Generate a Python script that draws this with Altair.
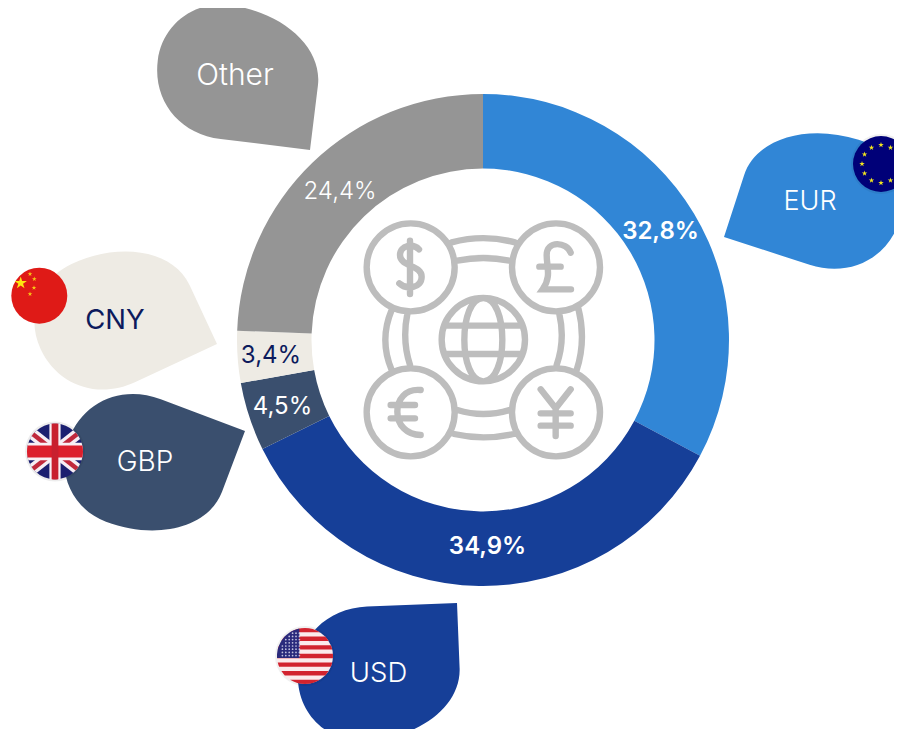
import math
import altair as alt
import pandas as pd

# ---- data
currencies = ["EUR", "USD", "GBP", "CNY", "Other"]
shares = [32.8, 34.9, 4.5, 3.4, 24.4]
share_labels = ["32,8%", "34,9%", "4,5%", "3,4%", "24,4%"]
colors = ["#3186d6", "#163f98", "#3a4f6e", "#eeebe4", "#959595"]
label_colors = ["#ffffff", "#ffffff", "#ffffff", "#0c1a5c", "#ffffff"]
label_weights = [600, 600, 400, 400, 300]
label_x = [660.5, 487.5, 282.5, 271, 340]
label_y = [232, 547, 406.5, 355.5, 191.5]

bubble_tip_x = [724, 457, 245, 217, 310]
bubble_tip_y = [237, 603, 431, 344, 150]
bubble_angle = [18, 177.7, 200.7, 155, 187]
bubble_mirror = [True, True, True, False, False]
bubble_text_x = [810, 378.5, 145, 115, 235]
bubble_text_y = [201.5, 674, 462.5, 320.5, 75.5]
bubble_text_size = [27, 27.5, 28, 27.5, 30]
bubble_text_weight = [300, 300, 300, 400, 300]
bubble_text_colors = ["#ffffff", "#ffffff", "#ffffff", "#0c1a5c", "#ffffff"]

CX, CY, R_OUT, R_IN = 483, 340, 246, 171.5
FONT = "Inter"

X = alt.X("x:Q", scale=alt.Scale(domain=[8, 894], nice=False, zero=False), axis=None)
Y = alt.Y("y:Q", scale=alt.Scale(domain=[729, 8], nice=False, zero=False), axis=None)


def at(x, y):
    return pd.DataFrame({"x": [x], "y": [y]})


def sym(x, y, shape, color, scale=1.0, angle=0, opacity=1.0):
    return (
        alt.Chart(at(x, y))
        .mark_point(shape=shape, filled=True, fill=color, strokeWidth=0, opacity=opacity,
                    size=(2 * scale) ** 2, angle=angle)
        .encode(x=X, y=Y)
    )


layers = []

# ---- teardrop bubbles
def drop(mirror):
    s = -1 if mirror else 1
    return (f"M0,0 L90,0 C132,0 162,{s*30} 162,{s*70} C162,{s*106} 134,{s*134} 98,{s*134} "
            f"C45,{s*134} 0,{s*104} 0,{s*65} Z")


for i in range(5):
    layers.append(sym(bubble_tip_x[i], bubble_tip_y[i], drop(bubble_mirror[i]), colors[i],
                      angle=bubble_angle[i] % 360))

# ---- donut
ends = []
total = 0
for v in shares:
    ends.append(total + v)
    total += v
arc_df = pd.DataFrame({
    "cur": currencies,
    "start": [e - v for e, v in zip(ends, shares)],
    "end": ends,
    "color": colors,
    "x": [CX] * 5,
    "y": [CY] * 5,
})
layers.append(
    alt.Chart(arc_df)
    .mark_arc(radius=R_OUT, radius2=R_IN)
    .encode(
        x=X, y=Y,
        theta=alt.Theta("start:Q", scale=alt.Scale(domain=[0, 100], range=[0, 2 * math.pi]), stack=None),
        theta2=alt.Theta2("end:Q"),
        color=alt.Color("color:N", scale=None, legend=None),
    )
)

# ---- share labels
for i in range(5):
    layers.append(
        alt.Chart(at(label_x[i], label_y[i]))
        .mark_text(text=share_labels[i], font=FONT, fontSize=24, fontWeight=label_weights[i],
                   color=label_colors[i], align="center", baseline="middle")
        .encode(x=X, y=Y)
    )

# ---- centre icon, path drawn in a 3x grid anchored at (350, 210)
def circ(cx, cy, r):
    return f"M{cx-r},{cy} A{r},{r} 0 1 1 {cx+r},{cy} A{r},{r} 0 1 1 {cx-r},{cy} "


icon = (
    circ(182, 172, 132) + circ(618, 172, 132) + circ(182, 607, 132) + circ(618, 607, 132) + circ(400, 389, 125)
    + "M400,264 C324,264 324,514 400,514 C476,514 476,264 400,264 "
    + "M287,347 L513,347 M287,432 L513,432 "
    + "M305,97 Q400,72 495,97 M322,152 Q400,136 478,152 "
    + "M322,600 Q400,624 478,600 M312,672 Q400,692 490,672 "
    + "M125,300 Q87,390 125,480 M172,312 Q156,390 180,465 "
    + "M628,312 Q646,390 620,465 M685,295 Q709,390 680,480 "
    + "M207,118 C190,100 150,105 150,135 C150,170 215,165 215,200 C215,235 170,240 148,220 M180,92 L180,252 "
    + "M662,128 C650,95 590,90 590,135 C590,170 605,200 578,238 L663,238 M568,170 L632,170 "
    + "M212,540 C165,535 142,570 142,605 C142,645 170,675 212,675 M122,585 L195,585 M122,625 L195,625 "
    + "M572,538 L617,595 L662,538 M617,595 L617,678 M572,610 L662,610 M572,647 L662,647"
)
layers.append(
    alt.Chart(at(350, 210))
    .mark_point(shape=icon, filled=False, stroke="#bdbdbd", strokeWidth=6.4, strokeCap="round",
                opacity=1, size=(2 / 3) ** 2)
    .encode(x=X, y=Y)
)

# ---- flags
STAR = "M0,-1 L.22,-.31 L.95,-.31 L.36,.12 L.59,.81 L0,.38 L-.59,.81 L-.36,.12 L-.95,-.31 L-.22,-.31 Z"
DISC = "circle"
FLAG_R = 28


def disc(x, y, color, r=FLAG_R, opacity=1.0):
    return sym(x, y, DISC, color, scale=r, opacity=opacity)


def band(h):
    w = math.sqrt(1 - h * h)
    return f"M{-w:.4f},{-h} L{w:.4f},{-h} A1,1 0 0 1 {w:.4f},{h} L{-w:.4f},{h} A1,1 0 0 1 {-w:.4f},{-h} Z"


def chord(y1, y2):
    a, b = math.sqrt(max(0, 1 - y1 * y1)), math.sqrt(max(0, 1 - y2 * y2))
    return f"M{-a:.4f},{y1:.4f} L{a:.4f},{y1:.4f} A1,1 0 0 1 {b:.4f},{y2:.4f} L{-b:.4f},{y2:.4f} A1,1 0 0 1 {-a:.4f},{y1:.4f} Z"


# EUR
ex, ey = 881, 164
layers.append(disc(ex, ey, "#000000", r=30, opacity=0.06))
layers.append(disc(ex, ey, "#000078"))
for k in range(12):
    a = math.radians(30 * k)
    layers.append(sym(ex + 19 * math.sin(a), ey - 19 * math.cos(a), STAR, "#f2e51d", scale=2.9))

# CNY
nx, ny = 39.3, 295.7
layers.append(disc(nx, ny, "#df1a17"))
layers.append(sym(20.7, 283, STAR, "#fde811", scale=6.5))
for sx, sy in [(30, 274), (34.3, 279), (34, 287.7), (30, 294)]:
    layers.append(sym(sx, sy, STAR, "#f7c815", scale=2.5))

# GBP
gx, gy = 55, 451.5
layers.append(disc(gx, gy, "#000000", r=30, opacity=0.07))
layers.append(disc(gx, gy, "#1b1f70"))
for ang in (38, 142):
    layers.append(sym(gx, gy, band(0.2), "#f6eef4", scale=FLAG_R, angle=ang))
    layers.append(sym(gx, gy, band(0.08), "#c0283c", scale=FLAG_R, angle=ang))
layers.append(sym(gx, gy, band(0.31), "#f8f0f4", scale=FLAG_R))
layers.append(sym(gx, gy, band(0.2), "#f8f0f4", scale=FLAG_R, angle=90))
layers.append(sym(gx, gy, band(0.21), "#dc1f2c", scale=FLAG_R))
layers.append(sym(gx, gy, band(0.12), "#c8202f", scale=FLAG_R, angle=90))

# USD
ux, uy = 305, 656
layers.append(disc(ux, uy, "#000000", r=30, opacity=0.06))
layers.append(disc(ux, uy, "#fbeaec"))
for k in range(0, 13, 2):
    layers.append(sym(ux, uy, chord(-1 + k * 2 / 13, -1 + (k + 1) * 2 / 13), "#d2232f", scale=FLAG_R))
layers.append(sym(ux, uy, "M-.2,-.98 A1,1 0 0 0 -.9975,.07 L-.2,.07 Z", "#2a2a7c", scale=FLAG_R))
for r_i in range(9):
    for c_i in range(7):
        px, py = ux - 26 + c_i * 3.4, uy - 26 + r_i * 3.2
        if (px - ux) ** 2 + (py - uy) ** 2 < 26 ** 2:
            layers.append(
                alt.Chart(at(px, py))
                .mark_point(shape="circle", filled=True, fill="#dcdcf0", strokeWidth=0, opacity=0.85, size=3)
                .encode(x=X, y=Y)
            )

# ---- bubble names
for i in range(5):
    layers.append(
        alt.Chart(at(bubble_text_x[i], bubble_text_y[i]))
        .mark_text(text=currencies[i], font=FONT, fontSize=bubble_text_size[i], fontWeight=bubble_text_weight[i],
                   color=bubble_text_colors[i], align="center", baseline="middle")
        .encode(x=X, y=Y)
    )

chart = (
    alt.layer(*layers)
    .properties(width=886, height=721, padding=0, autosize=alt.AutoSizeParams(type="none"), background="#ffffff")
    .configure_view(stroke=None)
    .resolve_scale(theta="independent")
)
chart.save("out.html", embed_options={"renderer": "svg", "actions": False})
